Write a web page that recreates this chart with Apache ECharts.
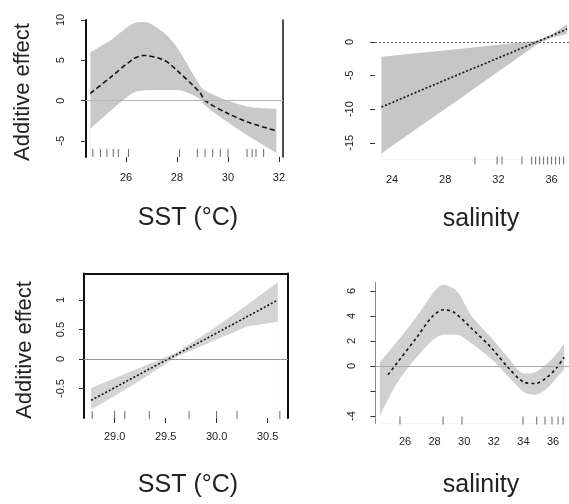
<!DOCTYPE html>
<html>
<head>
<meta charset="utf-8">
<script src="https://cdn.jsdelivr.net/npm/echarts@6/dist/echarts.min.js"></script>
<style>
html,body{margin:0;padding:0;background:#fff;}
#c{width:569px;height:504px;}
</style>
</head>
<body>
<div id="c"></div>
<script>
// ---- Panel 1: SST (top-left) ----
const p1_sst   = [24.6, 25.4, 26.3, 26.7, 27.5, 28.0, 28.9, 29.1, 30.0, 30.8, 31.9];
const p1_fit   = [0.9, 2.9, 5.2, 5.6, 5.0, 3.75, 1.0, 0.0, -1.6, -2.7, -3.75];
const p1_upper = [6.0, 7.5, 9.6, 9.75, 8.4, 6.6, 1.9, 1.25, 0.0, -0.75, -1.0];
const p1_lower = [-3.5, -1.25, 1.0, 1.25, 1.3, 1.3, 0.2, -0.6, -2.7, -4.4, -6.5];
const p1_rug   = [24.7, 25.0, 25.25, 25.5, 25.7, 26.1, 28.1, 28.8, 29.1, 29.4, 29.7, 30.0, 30.75, 30.95, 31.1, 31.4];
const p1_yticks = [-5, 0, 5, 10];
const p1_xticks = [26, 28, 30, 32];

// ---- Panel 2: salinity (top-right) ----
const p2_sal   = [23.2, 26, 29, 32, 34.9, 36, 37.16];
const p2_fit   = [-9.7, -7.35, -4.85, -2.4, 0.0, 0.9, 1.9];
const p2_upper = [-2.2, -1.65, -1.05, -0.45, 0.15, 1.1, 2.6];
const p2_lower = [-16.6, -12.7, -8.6, -4.4, -0.4, 0.6, 1.2];
const p2_rug   = [30.24, 31.9, 32.27, 33.77, 34.5, 34.8, 35.1, 35.4, 35.7, 36.0, 36.3, 36.6, 36.9];
const p2_yticks = [-15, -10, -5, 0];
const p2_xticks = [24, 28, 32, 36];

// ---- Panel 3: SST (bottom-left) ----
const p3_sst   = [28.77, 29.2, 29.6, 30.0, 30.3, 30.6];
const p3_fit   = [-0.7, -0.3, 0.07, 0.44, 0.72, 1.0];
const p3_upper = [-0.49, -0.18, 0.1, 0.55, 0.92, 1.3];
const p3_lower = [-0.86, -0.42, 0.03, 0.33, 0.55, 0.63];
const p3_rug   = [28.78, 29.0, 29.1, 29.34, 29.73, 30.0, 30.2, 30.62];
const p3_yticks = [-0.5, 0, 0.5, 1];
const p3_xticks = [29.0, 29.5, 30.0, 30.5];

// ---- Panel 4: salinity (bottom-right) ----
const p4_band_sal = [24.3, 25.5, 27.0, 28.0, 28.6, 29.5, 30.5, 31.8, 32.95, 34.05, 34.8, 35.6, 36.2, 36.75];
const p4_upper    = [0.3, 2.0, 4.3, 6.0, 6.5, 6.0, 4.0, 2.3, 0.7, -0.6, -0.5, 0.2, 0.9, 1.8];
const p4_lower    = [-4.0, -1.3, 1.0, 2.2, 2.5, 2.5, 1.8, 0.6, -0.8, -2.1, -2.3, -1.8, -1.0, -0.3];
const p4_fit_sal  = [24.85, 25.5, 26.8, 27.8, 28.6, 29.3, 30.5, 31.8, 32.95, 34.05, 34.8, 35.6, 36.2, 36.75];
const p4_fit      = [-0.7, 0.3, 2.3, 3.9, 4.5, 4.3, 3.0, 1.5, -0.1, -1.3, -1.4, -0.9, -0.2, 0.7];
const p4_rug      = [25.66, 28.57, 29.85, 33.97, 34.9, 35.46, 35.93, 36.34, 36.68];
const p4_yticks   = [-4, -2, 0, 2, 4, 6];
const p4_ylabels  = [-4, 0, 2, 4, 6];
const p4_xticks   = [26, 28, 30, 32, 34, 36];

const FONT = 'Liberation Sans, Arial, Helvetica, sans-serif';
const pairs = (xs, ys) => xs.map((x, i) => [x, ys[i]]);

function xAx(gi, min, max, ticks, margin, showTick, fmt) {
  return {
    type: 'value', gridIndex: gi, min: min, max: max, position: 'bottom',
    axisLine: {show: false, onZero: false},
    axisTick: {show: showTick, customValues: ticks, length: 5, lineStyle: {color: '#222', width: 1}},
    axisLabel: {customValues: ticks, margin: margin, fontSize: 11, color: '#222', fontFamily: FONT,
                formatter: fmt || (v => String(v))},
    splitLine: {show: false}
  };
}
function yAx(gi, min, max, ticks, labels, margin, lineShow, lineColor, lineWidth) {
  return {
    type: 'value', gridIndex: gi, min: min, max: max, position: 'left',
    axisLine: {show: lineShow, onZero: false, lineStyle: {color: lineColor, width: lineWidth}},
    axisTick: {show: true, customValues: ticks, length: 5, lineStyle: {color: '#333', width: 1}},
    axisLabel: {customValues: labels, margin: margin, rotate: 90, fontSize: 11, color: '#222', fontFamily: FONT},
    splitLine: {show: false}
  };
}
function lineOnly(gi, pos, width) {
  return {type: 'value', gridIndex: gi, position: pos,
    axisLine: {show: true, onZero: false, lineStyle: {color: '#111', width: width}},
    axisTick: {show: false}, axisLabel: {show: false}, splitLine: {show: false}};
}
function band(xi, xs, up, lo, color, smooth) {
  return [
    {type: 'line', xAxisIndex: xi, yAxisIndex: xi, data: pairs(xs, up), smooth: smooth,
     symbol: 'none', lineStyle: {width: 0}, areaStyle: {color: color, opacity: 1, origin: 'start'}, silent: true, z: 1},
    {type: 'line', xAxisIndex: xi, yAxisIndex: xi, data: pairs(xs, lo), smooth: smooth,
     symbol: 'none', lineStyle: {width: 0}, areaStyle: {color: '#ffffff', opacity: 1, origin: 'start'}, silent: true, z: 1}
  ];
}
function fit(xi, xs, ys, dash, smooth, zeroStyle) {
  return {type: 'line', xAxisIndex: xi, yAxisIndex: xi, data: pairs(xs, ys), smooth: smooth,
    symbol: 'none', lineStyle: {color: '#111', width: 1.6, type: dash}, z: 3,
    markLine: {silent: true, symbol: 'none', label: {show: false}, lineStyle: zeroStyle, data: [{yAxis: 0}]}};
}
function rug(xi, xs, ymin, offset) {
  return {type: 'scatter', xAxisIndex: xi, yAxisIndex: xi, data: xs.map(x => [x, ymin]),
    symbol: 'rect', symbolSize: [1, 8], symbolOffset: [0, offset], itemStyle: {color: '#444'}, silent: true, z: 4};
}

const chart = echarts.init(document.getElementById('c'), null, {renderer: 'canvas'});
const option = {
  animation: false,
  backgroundColor: '#ffffff',
  grid: [
    {left: 86, top: 20, width: 197, height: 137, containLabel: false, outerBoundsMode: 'none'},
    {left: 375, top: 25, width: 194, height: 134.6, containLabel: false, outerBoundsMode: 'none'},
    {left: 84, top: 273.5, width: 204, height: 144.5, containLabel: false, outerBoundsMode: 'none'},
    {left: 375.4, top: 282.25, width: 193.9, height: 141.25, containLabel: false, outerBoundsMode: 'none'}
  ],
  xAxis: [
    xAx(0, 24.43, 32.16, p1_xticks, 15, true),
    xAx(1, 22.72, 37.31, p2_xticks, 15, false),
    xAx(2, 28.7, 30.7, p3_xticks, 13, true, v => v.toFixed(1)),
    xAx(3, 24, 37.1, p4_xticks, 13, false),
    lineOnly(2, 'top', 2)
  ],
  yAxis: [
    yAx(0, -7, 10, p1_yticks, p1_yticks, 20, true, '#111', 2),
    yAx(1, -17.5, 2.5, p2_yticks, p2_yticks, 20, false, '#ccc', 1),
    yAx(2, -1, 1.45, p3_yticks, p3_yticks, 18, true, '#111', 2),
    yAx(3, -4.6, 6.7, p4_yticks, p4_ylabels, 18, true, '#888', 1),
    lineOnly(0, 'right', 1.5),
    lineOnly(2, 'right', 2)
  ],
  graphic: [
    {type: 'text', x: 23, y: 92, rotation: Math.PI / 2, style: {text: 'Additive effect', font: '22px ' + FONT, fill: '#222', align: 'center', verticalAlign: 'middle'}},
    {type: 'text', x: 25, y: 350, rotation: Math.PI / 2, style: {text: 'Additive effect', font: '22px ' + FONT, fill: '#222', align: 'center', verticalAlign: 'middle'}},
    {type: 'text', x: 188, y: 218, style: {text: 'SST (°C)', font: '25px ' + FONT, fill: '#222', align: 'center', verticalAlign: 'middle'}},
    {type: 'text', x: 481, y: 219, style: {text: 'salinity', font: '25px ' + FONT, fill: '#222', align: 'center', verticalAlign: 'middle'}},
    {type: 'text', x: 188, y: 485, style: {text: 'SST (°C)', font: '25px ' + FONT, fill: '#222', align: 'center', verticalAlign: 'middle'}},
    {type: 'text', x: 481, y: 485, style: {text: 'salinity', font: '25px ' + FONT, fill: '#222', align: 'center', verticalAlign: 'middle'}}
  ],
  series: [].concat(
    band(0, p1_sst, p1_upper, p1_lower, '#c9c9c9', 0.3),
    [fit(0, p1_sst, p1_fit, [5, 3], 0.3, {color: '#b5b5b5', width: 1, type: 'solid'}),
     rug(0, p1_rug, -7, -4)],
    band(1, p2_sal, p2_upper, p2_lower, '#c6c6c6', false),
    [fit(1, p2_sal, p2_fit, [2, 2], false, {color: '#666', width: 1, type: [2, 2]}),
     rug(1, p2_rug, -17.5, 1)],
    band(2, p3_sst, p3_upper, p3_lower, '#d4d4d4', false),
    [fit(2, p3_sst, p3_fit, [2, 2], false, {color: '#999', width: 1, type: 'solid'}),
     rug(2, p3_rug, -1, -3)],
    band(3, p4_band_sal, p4_upper, p4_lower, '#d0d0d0', 0.3),
    [fit(3, p4_fit_sal, p4_fit, [3, 3], 0.3, {color: '#aaa', width: 1, type: 'solid'}),
     rug(3, p4_rug, -4.6, -3)]
  )
};
chart.setOption(option);
</script>
</body>
</html>
